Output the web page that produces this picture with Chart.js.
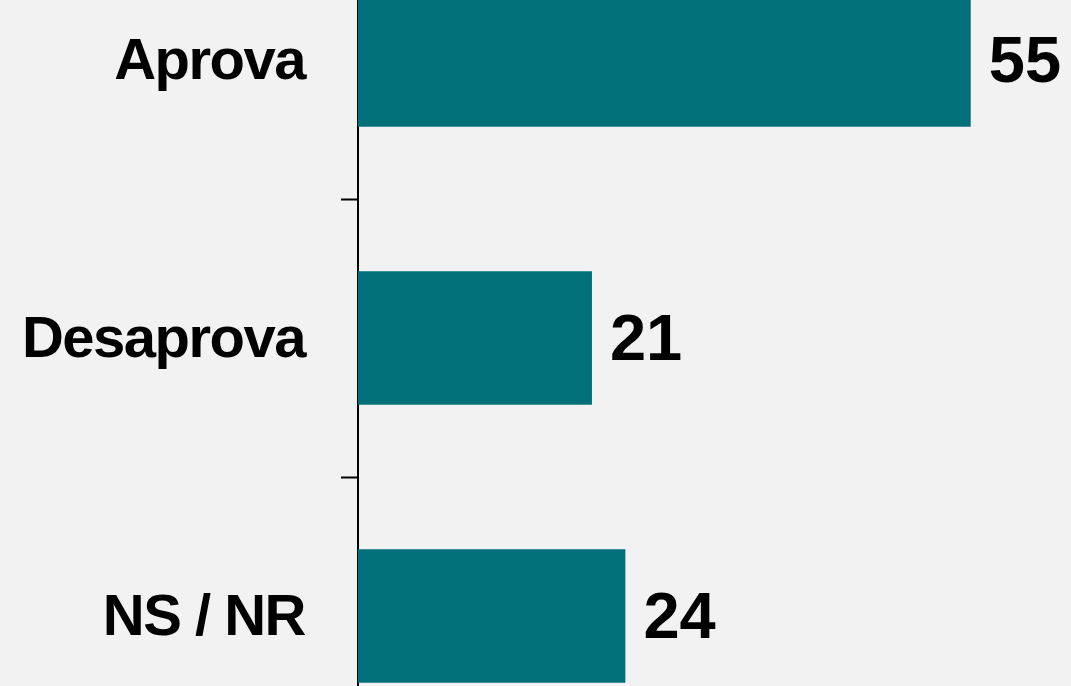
<!DOCTYPE html>
<html>
<head>
<meta charset="utf-8">
<script src="https://cdn.jsdelivr.net/npm/chart.js@4"></script>
<style>
html,body{margin:0;padding:0;background:#f2f2f2;overflow:hidden;width:1071px;height:686px}
#chart{position:absolute;left:0;top:-79px}
</style>
</head>
<body>
<canvas id="chart" width="1071" height="834"></canvas>
<script>
// data
let categories=["Aprova","Desaprova","NS / NR"]
let values=[55,21,24]

// value labels at the end of each bar
let valueLabels={
id:"valueLabels",
beforeDraw:function(chart){
chart.ctx.letterSpacing="-1.5px"
},
afterDatasetsDraw:function(chart){
let ctx=chart.ctx
let meta=chart.getDatasetMeta(0)
ctx.save()
ctx.letterSpacing="0px"
ctx.font="bold 65px 'Liberation Sans', Arial, sans-serif"
ctx.fillStyle="#000"
ctx.textAlign="left"
ctx.textBaseline="middle"
meta.data.forEach(function(bar,i){
ctx.fillText(values[i],bar.x+18,bar.y+4)
})
ctx.restore()
}
}

new Chart(document.getElementById("chart"),{
type:"bar",
data:{
labels:categories,
datasets:[{
data:values,
backgroundColor:"#01707a",
borderWidth:0,
categoryPercentage:1,
barPercentage:0.48
}]
},
options:{
indexAxis:"y",
responsive:false,
maintainAspectRatio:false,
animation:false,
devicePixelRatio:1,
layout:{padding:0},
plugins:{legend:{display:false},tooltip:{enabled:false}},
scales:{
x:{display:false,min:0,max:64},
y:{
z:1,
afterFit:function(scale){
scale.width=358
scale.paddingTop=0
scale.paddingBottom=0
},
border:{display:true,color:"#000",width:2},
grid:{display:true,drawOnChartArea:false,drawTicks:true,tickLength:17,tickWidth:2,tickColor:"#000",offset:true},
ticks:{
color:"#000",
padding:36,
labelOffset:3,
font:{family:"'Liberation Sans', Arial, sans-serif",size:58,weight:"bold"}
}
}
}
},
plugins:[valueLabels]
})
</script>
</body>
</html>
